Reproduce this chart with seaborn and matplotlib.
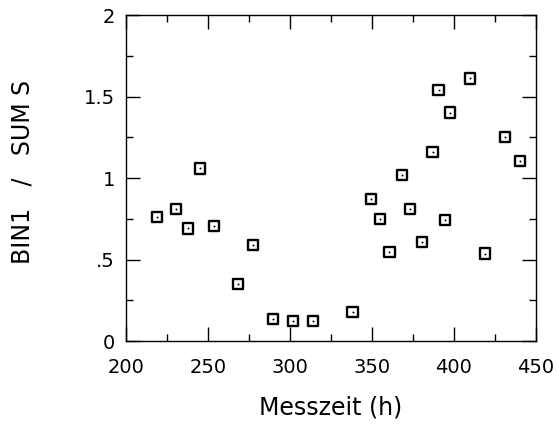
import matplotlib
matplotlib.use("Agg")
import matplotlib.pyplot as plt
from matplotlib.ticker import MultipleLocator, FixedLocator, FixedFormatter
import seaborn as sns
import pandas as pd

# Measurement time (h) and BIN1 / SUM S ratio
messzeit = [218.7, 230.5, 238.0, 245.1, 253.7, 268.5, 277.4, 289.8, 301.8, 314.2,
            338.2, 349.4, 354.9, 360.6, 368.1, 373.0, 380.7, 386.9, 390.6, 394.3,
            397.4, 409.8, 418.7, 430.9, 440.4]
ratio = [0.759, 0.808, 0.691, 1.059, 0.707, 0.350, 0.589, 0.135, 0.123, 0.123,
         0.180, 0.871, 0.748, 0.544, 1.017, 0.812, 0.609, 1.160, 1.540, 0.742,
         1.401, 1.611, 0.536, 1.253, 1.106]

y_ticks = [0, 0.5, 1, 1.5, 2]
y_tick_labels = ["0", ".5", "1", "1.5", "2"]
x_ticks = [200, 250, 300, 350, 400, 450]

df = pd.DataFrame({"Messzeit": messzeit, "Ratio": ratio})

sns.set_style("white")
plt.rcParams["font.family"] = ["DejaVu Sans"]
plt.rcParams["text.color"] = "black"
plt.rcParams["axes.labelcolor"] = "black"

fig = plt.figure(figsize=(5.57, 4.25), dpi=100)
ax = fig.add_axes([0.2262, 0.1976, 0.9623 - 0.2262, 0.9647 - 0.1976])

sns.scatterplot(data=df, x="Messzeit", y="Ratio", ax=ax, marker="s", s=55,
                facecolor="none", edgecolor="black", linewidth=1.7, legend=False)
sns.scatterplot(data=df, x="Messzeit", y="Ratio", ax=ax, marker="o", s=2,
                color="black", linewidth=0, legend=False)

ax.set_xlim(200, 450)
ax.set_ylim(0, 2)
ax.xaxis.set_major_locator(FixedLocator(x_ticks))
ax.xaxis.set_minor_locator(MultipleLocator(25))
ax.yaxis.set_major_locator(FixedLocator(y_ticks))
ax.yaxis.set_major_formatter(FixedFormatter(y_tick_labels))
ax.yaxis.set_minor_locator(MultipleLocator(0.25))

ax.tick_params(which="both", direction="in", top=True, right=True,
               bottom=True, left=True, color="black", labelcolor="black", width=1.0)
ax.tick_params(which="major", length=10, labelsize=14)
ax.tick_params(which="minor", length=5)
ax.tick_params(axis="x", which="major", pad=12.5)
ax.tick_params(axis="y", which="major", pad=8)

for sp in ax.spines.values():
    sp.set_color("black")
    sp.set_linewidth(1.0)

ax.set_xlabel("Messzeit (h)", fontsize=17, labelpad=13)
ax.set_ylabel("BIN1   /   SUM S", fontsize=17)
ax.yaxis.set_label_coords(-0.224, 0.518)

fig.savefig("out.png", dpi=100, facecolor="white")
